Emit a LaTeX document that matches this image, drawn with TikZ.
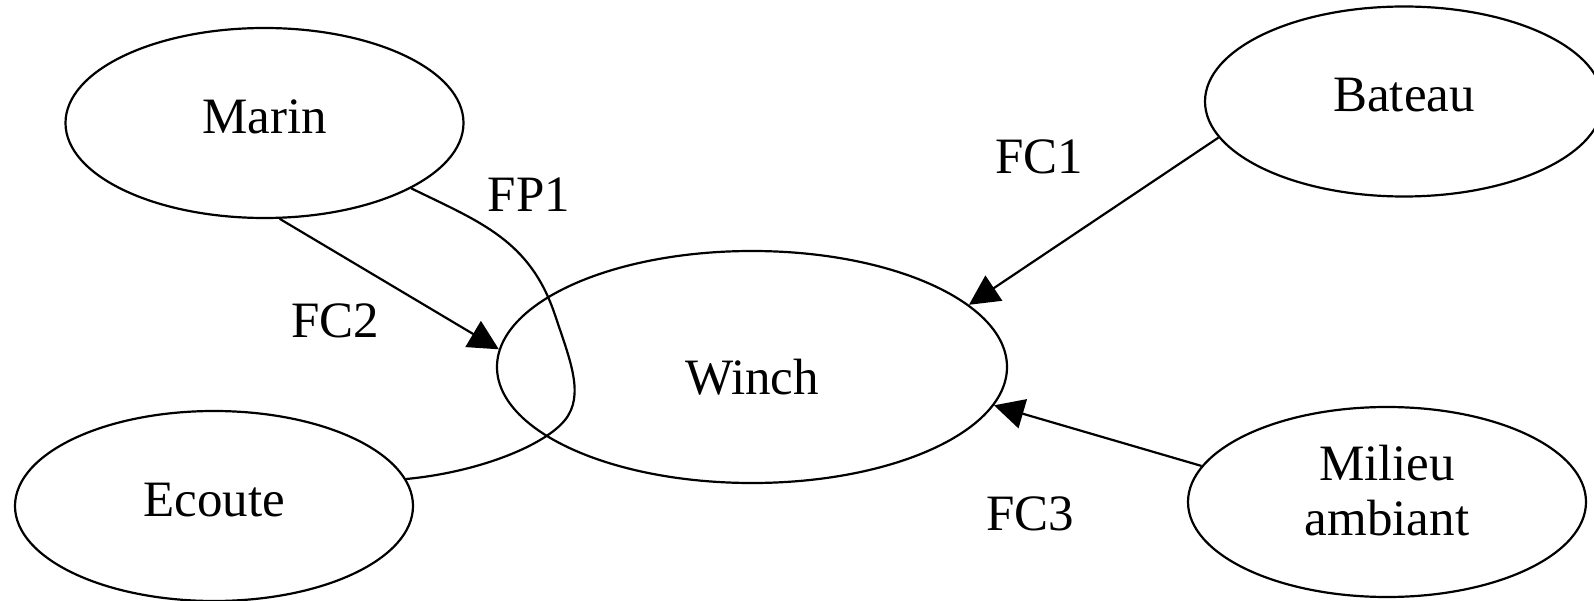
\documentclass[tikz,border=0pt]{standalone}
\usepackage{fontspec}
\setmainfont{Liberation Serif}
\usetikzlibrary{shapes.geometric,arrows.meta}
\begin{document}
\begin{tikzpicture}[x=1pt,y=-1pt,
  every node/.style={font=\fontsize{51}{55}\selectfont},
  actor/.style={ellipse,draw,line width=2.2pt,inner sep=0pt,minimum width=398pt,minimum height=190pt,text height=31pt,text depth=10pt},
  flow/.style={line width=2.2pt,-{Triangle[length=30pt,width=30pt]}},
  link/.style={line width=2.2pt},
  flowlabel/.style={anchor=base}]
\useasboundingbox (0,0) rectangle (1594,601);
\node[actor] (marin) at (264.5,123) {Marin};
\node[actor] (ecoute) at (214,506) {Ecoute};
\node[actor] (bateau) at (1404,101.5) {Bateau};
\node[actor,align=center,text height=88pt,text depth=22pt] (milieu) at (1387,502) {Milieu\\ambiant};
\node[actor,minimum width=510pt,minimum height=232pt,text height=54pt,text depth=0pt] (winch) at (752,367) {Winch};
\draw[flow] (marin.-81.1) -- (winch.176.1);
\draw[flow] (bateau.-169.8) -- (winch.16.6);
\draw[flow] (milieu.169.6) -- (winch.-9.1);
\draw[link] (marin.-24.7) .. controls (480,222) and (530,240) .. (555,315)
  .. controls (570,360) and (585,395) .. (565,420)
  .. controls (545,445) and (480,472) .. (ecoute.8.3);
\node[flowlabel] (fp1) at (529,212) {FP1};
\node[flowlabel] (fc2) at (335,337) {FC2};
\node[flowlabel] (fc1) at (1039.5,174) {FC1};
\node[flowlabel] (fc3) at (1030,530) {FC3};
\end{tikzpicture}
\end{document}
